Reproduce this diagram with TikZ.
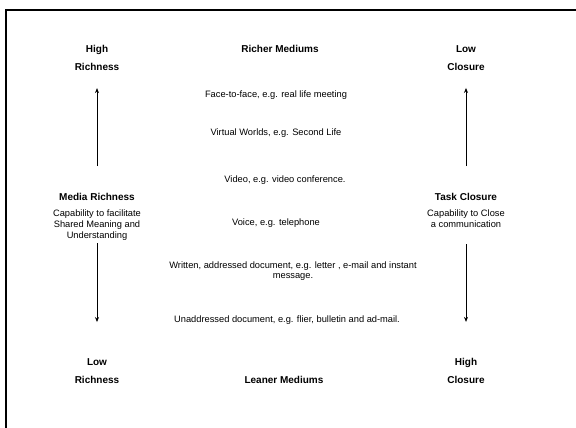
\documentclass[tikz,border=0pt]{standalone}
\usepackage{fontspec}
\setmainfont{Liberation Sans}
\usetikzlibrary{arrows.meta}
\begin{document}
\begin{tikzpicture}[x=1pt,y=-1pt,
  lbl/.style={font=\fontsize{10}{18.5}\selectfont\bfseries, align=center, inner sep=0pt},
  ttl/.style={font=\fontsize{10}{12}\selectfont\bfseries, inner sep=0pt},
  desc/.style={font=\fontsize{9.3}{10.8}\selectfont, align=center, inner sep=0pt},
  med/.style={font=\fontsize{9.3}{10}\selectfont, align=center, inner sep=0pt},
  axis/.style={line width=0.8pt, -{Stealth[length=5pt,width=4pt]}}
]
\useasboundingbox (0,0) rectangle (576,428);
\draw[line width=2pt] (6,429) -- (6,10) -- (577,10);

% left column
\node[lbl] (hr) at (97,58) {High\\Richness};
\node[ttl] (mr) at (97,197) {Media Richness};
\node[desc] (mrd) at (97,225) {Capability to facilitate\\Shared Meaning and\\Understanding};
\node[lbl] (lr) at (97,371) {Low\\Richness};

% right column
\node[lbl] (lc) at (466,58) {Low\\Closure};
\node[ttl] (tc) at (466,197) {Task Closure};
\node[desc] (tcd) at (466,219) {Capability to Close\\a communication};
\node[lbl] (hc) at (466,371) {High\\Closure};

% middle column
\node[ttl] (rm) at (280,49) {Richer Mediums};
\node[med] (m1) at (276,95) {Face-to-face, e.g. real life meeting};
\node[med] (m2) at (276,133) {Virtual Worlds, e.g. Second Life};
\node[med] (m3) at (285,180) {Video, e.g. video conference.};
\node[med] (m4) at (276,223) {Voice, e.g. telephone};
\node[med] (m5) at (293,271) {Written, addressed document, e.g. letter , e-mail and instant\\message.};
\node[med] (m6) at (287,320) {Unaddressed document, e.g. flier, bulletin and ad-mail.};
\node[ttl] (lm) at (284,380) {Leaner Mediums};

% arrows
\draw[axis, shorten <=27pt, shorten >=17pt] (mr.north) -- (hr.south);
\draw[axis, shorten <=3pt, shorten >=36pt] (mrd.south) -- (lr.north);
\draw[axis, shorten <=27pt, shorten >=17pt] (tc.north) -- (lc.south);
\draw[axis, shorten <=16pt, shorten >=36pt] (tcd.south) -- (hc.north);
\end{tikzpicture}
\end{document}
